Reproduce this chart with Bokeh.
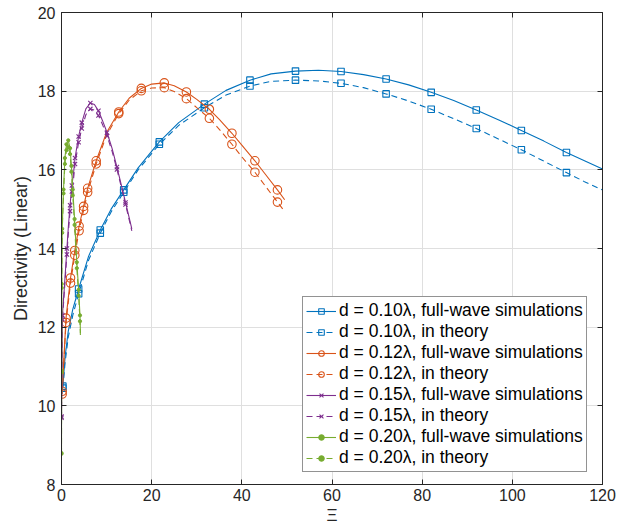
import numpy as np
from bokeh.plotting import figure
from bokeh.models import Range1d, LinearAxis, Legend, LegendItem, FixedTicker
from bokeh.embed import file_html
from bokeh.resources import INLINE

# ---------------- data ----------------
x_ticks = [0, 20, 40, 60, 80, 100, 120]
y_ticks = [8, 10, 12, 14, 16, 18, 20]

# d = 0.10 lambda
b_x = [0.3, 0.8, 1.5, 2.5, 3.8, 6.0, 8.6, 11.0, 13.8, 17.0, 21.7, 26.0, 31.7, 36.5, 41.8, 46.5,
       51.9, 57.0, 62.0, 67.0, 72.0, 77.0, 82.0, 87.0, 92.0, 97.0, 102.0, 107.0, 112.0, 116.0, 120.0]
b_fw = [10.50, 11.25, 11.90, 12.45, 12.97, 13.80, 14.47, 15.00, 15.49, 16.05, 16.71, 17.20, 17.67, 18.02,
        18.28, 18.44, 18.51, 18.53, 18.50, 18.42, 18.31, 18.16, 17.97, 17.76, 17.52, 17.27, 17.00, 16.73,
        16.44, 16.23, 16.02]
b_th = [10.45, 11.10, 11.75, 12.30, 12.85, 13.70, 14.39, 14.93, 15.43, 16.00, 16.65, 17.13, 17.58, 17.90,
        18.13, 18.25, 18.28, 18.26, 18.20, 18.09, 17.93, 17.75, 17.54, 17.30, 17.05, 16.78, 16.51, 16.22,
        15.93, 15.70, 15.49]
b_marks = [0.3, 3.8, 8.6, 13.8, 21.7, 31.7, 41.8, 51.9, 62.0, 72.0, 82.0, 92.0, 102.0, 112.0]

# d = 0.12 lambda
o_x = [0.15, 1.0, 2.0, 2.95, 3.9, 4.9, 5.8, 7.7, 10.0, 12.7, 15.0, 17.7, 20.0, 22.8, 25.0, 27.7,
       30.0, 32.8, 35.0, 37.8, 40.0, 42.9, 45.0, 47.9, 49.5]
o_fw = [10.37, 12.23, 13.25, 13.95, 14.57, 15.07, 15.53, 16.23, 16.95, 17.47, 17.82, 18.07, 18.18, 18.21,
        18.14, 17.98, 17.79, 17.54, 17.28, 16.93, 16.63, 16.23, 15.92, 15.49, 15.24]
o_th = [10.30, 12.12, 13.12, 13.83, 14.45, 14.97, 15.43, 16.15, 16.88, 17.43, 17.77, 18.01, 18.08, 18.09,
        17.99, 17.81, 17.58, 17.31, 17.03, 16.65, 16.33, 15.94, 15.62, 15.18, 14.94]
o_marks = [0.15, 1.0, 2.0, 2.95, 3.9, 4.9, 5.8, 7.7, 12.7, 17.7, 22.8, 27.7, 32.8, 37.8, 42.9, 47.9]

# d = 0.15 lambda
p_x = [0.0, 0.2, 0.6, 1.2, 1.55, 1.9, 2.3, 2.7, 3.0, 3.8, 4.5, 5.4, 6.4, 7.3, 8.2, 9.1, 10.1,
       11.2, 12.3, 13.3, 14.2, 15.6]
p_fw = [9.73, 12.30, 12.95, 14.00, 14.60, 15.10, 15.60, 15.95, 16.30, 16.85, 17.20, 17.55, 17.70, 17.66,
        17.50, 17.25, 16.95, 16.55, 16.07, 15.60, 15.17, 14.50]
p_th = [9.70, 12.20, 12.85, 13.85, 14.45, 14.95, 15.45, 15.80, 16.15, 16.70, 17.05, 17.40, 17.55, 17.52,
        17.38, 17.15, 16.86, 16.48, 16.01, 15.55, 15.12, 14.45]
p_marks = [0.0, 0.2, 1.2, 1.9, 2.3, 3.0, 3.8, 4.5, 6.4, 8.2, 10.1, 12.3, 14.2]

# d = 0.20 lambda
g_x = [0.0, 0.02, 0.05, 0.15, 0.45, 0.75, 1.1, 1.5, 1.9, 2.2, 2.5, 2.9, 3.4, 3.8, 4.1, 4.2]
g_fw = [8.80, 10.90, 13.10, 14.50, 15.50, 16.30, 16.65, 16.75, 16.55, 16.10, 15.50, 14.75, 13.65, 12.95,
        12.30, 11.85]
g_th = [8.78, 10.85, 13.00, 14.40, 15.40, 16.15, 16.50, 16.58, 16.40, 15.95, 15.35, 14.60, 13.50, 12.80,
        12.15, 11.75]
g_marks = [0.0, 0.02, 0.05, 0.15, 0.45, 0.75, 1.1, 1.5, 1.9, 2.2, 2.5, 2.9, 3.4, 3.8, 4.1]

labels = [
    "d = 0.10\u03bb, full-wave simulations", "d = 0.10\u03bb, in theory",
    "d = 0.12\u03bb, full-wave simulations", "d = 0.12\u03bb, in theory",
    "d = 0.15\u03bb, full-wave simulations", "d = 0.15\u03bb, in theory",
    "d = 0.20\u03bb, full-wave simulations", "d = 0.20\u03bb, in theory",
]

# ---------------- styles ----------------
BLUE, ORANGE, PURPLE, GREEN = "#0072BD", "#D95319", "#7E2F8E", "#77AC30"
TXT = "#262626"
FONT = "Liberation Sans"

series = [
    (b_x, b_fw, b_marks, BLUE, "square", 6.5, "solid"),
    (b_x, b_th, b_marks, BLUE, "square", 6.5, "dashed"),
    (o_x, o_fw, o_marks, ORANGE, "circle", 8.5, "solid"),
    (o_x, o_th, o_marks, ORANGE, "circle", 8.5, "dashed"),
    (p_x, p_fw, p_marks, PURPLE, "x", 6, "solid"),
    (p_x, p_th, p_marks, PURPLE, "x", 6, "dashed"),
    (g_x, g_fw, g_marks, GREEN, "dot", 3.2, "solid"),
    (g_x, g_th, g_marks, GREEN, "dot", 3.2, "dashed"),
]

p = figure(width=641, height=527, x_range=Range1d(0, 120), y_range=Range1d(8, 20),
           output_backend="svg", toolbar_location=None,
           min_border_left=61, min_border_right=39, min_border_top=12, min_border_bottom=42)
p.background_fill_color = "white"
p.border_fill_color = "white"
p.outline_line_color = TXT
p.outline_line_width = 1

items = []
for (xs, ys, marks, col, mk, sz, dash), lab in zip(series, labels):
    xs = np.asarray(xs, dtype=float)
    ys = np.asarray(ys, dtype=float)
    sel = np.isin(xs, np.asarray(marks, dtype=float))
    ld = "solid" if dash == "solid" else "6 4"
    r1 = p.line(xs, ys, line_color=col, line_width=1.1, line_dash=ld)
    if mk == "dot":
        r2 = p.scatter(xs[sel], ys[sel], marker="circle", size=sz, line_color=col, fill_color=col)
    else:
        r2 = p.scatter(xs[sel], ys[sel], marker=mk, size=sz, line_color=col, fill_color=None,
                       line_width=1.1)
    items.append(LegendItem(label=lab, renderers=[r1, r2]))

# axes
xa = p.xaxis[0]
ya = p.yaxis[0]
xa.ticker = FixedTicker(ticks=x_ticks)
ya.ticker = FixedTicker(ticks=y_ticks)
for ax in (xa, ya):
    ax.major_tick_in = 5
    ax.major_tick_out = 0
    ax.minor_tick_line_color = None
    ax.axis_line_color = TXT
    ax.major_tick_line_color = TXT
    ax.major_label_text_font = FONT
    ax.major_label_text_font_size = "16px"
    ax.major_label_text_color = TXT
    ax.axis_label_text_font = FONT
    ax.axis_label_text_font_style = "normal"
    ax.axis_label_text_color = TXT
xa.axis_label = "\u039e"
xa.axis_label_text_font_size = "17px"
xa.major_label_standoff = 4
xa.axis_label_standoff = 2
ya.axis_label = "Directivity (Linear)"
ya.axis_label_text_font_size = "18px"
ya.major_label_standoff = 6
ya.axis_label_standoff = 4

top = LinearAxis(ticker=FixedTicker(ticks=x_ticks),
                 major_label_overrides={t: "" for t in x_ticks},
                 axis_line_color=TXT, major_tick_line_color=TXT, major_tick_in=5, major_tick_out=0,
                 minor_tick_line_color=None, major_label_standoff=0)
right = LinearAxis(ticker=FixedTicker(ticks=y_ticks),
                   major_label_overrides={t: "" for t in y_ticks},
                   axis_line_color=TXT, major_tick_line_color=TXT, major_tick_in=5, major_tick_out=0,
                   minor_tick_line_color=None, major_label_standoff=0)
p.add_layout(top, "above")
p.add_layout(right, "right")

p.xgrid.ticker = FixedTicker(ticks=x_ticks)
p.ygrid.ticker = FixedTicker(ticks=y_ticks)
for g in (p.xgrid, p.ygrid):
    g.grid_line_color = "#dfdfdf"
    g.grid_line_width = 1

legend = Legend(items=items, location=(241, 12))
legend.label_text_font = FONT
legend.label_text_font_size = "17.5px"
legend.label_text_color = "black"
legend.border_line_color = TXT
legend.border_line_width = 1
legend.background_fill_color = "white"
legend.background_fill_alpha = 1
legend.glyph_width = 30
legend.glyph_height = 14
legend.label_height = 20
legend.spacing = 0
legend.padding = 3
legend.margin = 0
legend.label_standoff = 3
p.add_layout(legend)

open("out.html", "w").write(file_html(p, INLINE))
